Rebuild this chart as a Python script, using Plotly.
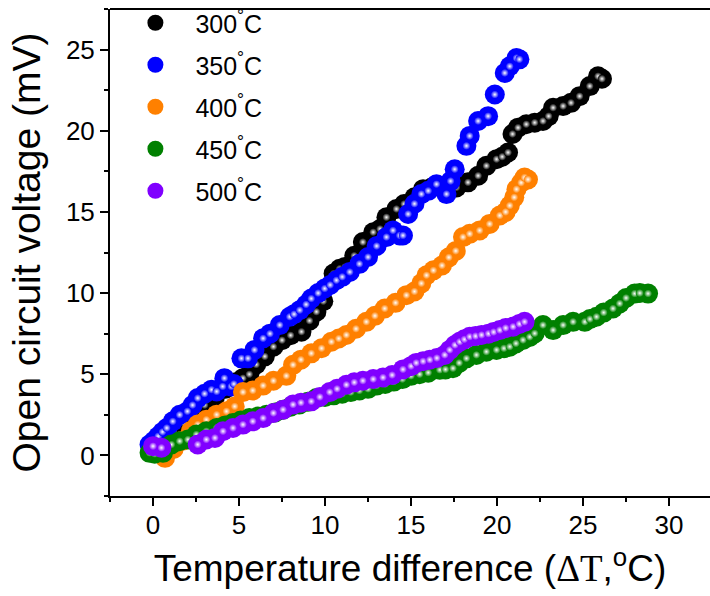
import plotly.graph_objects as go

# ---- data ----
LABELS = ["300<sup>°</sup>C", "350<sup>°</sup>C", "400<sup>°</sup>C", "450<sup>°</sup>C", "500<sup>°</sup>C"]
COLORS = ["#000000", "#0000FF", "#FF8000", "#008000", "#8000FF"]

X300 = [0.1, 0.6, 1.2, 1.8, 2.4, 3.0, 3.6, 4.2, 4.8, 5.23, 5.6, 6.0, 6.5, 7.0, 7.5, 8.0, 8.63, 9.1, 9.5, 9.9,
        10.5, 10.85, 11.15, 11.7, 12.2, 12.8, 13.2, 13.57, 14.15, 14.6, 15.2, 15.7, 16.2, 16.6, 17.1, 17.64,
        18.31, 18.9, 19.38, 19.97, 20.3, 20.64, 20.9, 21.22, 21.7, 22.19, 22.67, 23.0, 23.26, 23.84, 24.3,
        24.8, 25.39, 25.87, 26.1]
Y300 = [0.3, 0.8, 1.5, 2.0, 2.6, 3.1, 3.6, 4.1, 4.5, 4.76, 5.0, 5.6, 6.1, 6.7, 7.1, 7.4, 7.62, 8.3, 8.85, 9.5,
        11.2, 11.5, 11.6, 12.3, 13.14, 13.75, 13.95, 14.67, 15.18, 15.49, 15.9, 16.4, 16.5, 16.6, 16.5, 16.51,
        16.82, 17.23, 17.84, 18.25, 18.4, 18.66, 19.8, 20.19, 20.4, 20.5, 20.6, 20.9, 21.42, 21.52, 21.72,
        22.13, 22.75, 23.36, 23.2]

X350 = [-0.2, 0.05, 0.3, 0.55, 0.8, 1.15, 1.55, 2.0, 2.3, 2.6, 3.0, 3.4, 3.7, 4.05, 4.15, 4.55, 4.7, 5.14,
        5.52, 5.9, 6.4, 6.8, 7.37, 7.95, 8.2, 8.53, 8.9, 9.2, 9.6, 9.98, 10.3, 10.66, 11.0, 11.44, 12.0, 12.5,
        13.0, 13.57, 13.95, 14.34, 14.53, 14.83, 15.2, 15.6, 16.0, 16.48, 17.06, 17.3, 17.54, 18.22, 18.41,
        18.9, 19.48, 19.87, 20.45, 20.74, 21.13, 21.3]
Y350 = [0.67, 0.9, 1.18, 1.45, 1.69, 2.1, 2.5, 2.72, 3.1, 3.53, 3.8, 4.05, 3.94, 4.25, 4.76, 4.25, 4.4, 5.98,
        5.98, 6.5, 7.21, 7.5, 8.03, 8.54, 8.7, 8.95, 9.3, 9.66, 10.0, 10.28, 10.5, 10.79, 11.0, 11.3, 11.8,
        12.22, 12.9, 13.45, 13.86, 13.55, 13.55, 14.87, 15.5, 16.1, 16.3, 16.71, 16.1, 16.9, 17.63, 19.07,
        19.68, 20.6, 20.9, 22.23, 23.56, 23.97, 24.48, 24.4]

X400 = [0.7, 1.2, 1.7, 2.2, 2.6, 3.1, 3.7, 4.27, 4.75, 5.23, 5.8, 6.4, 7.0, 7.75, 8.14, 8.6, 9.2, 9.8, 10.37,
        10.8, 11.24, 11.8, 12.4, 12.9, 13.47, 14.1, 14.73, 15.2, 15.6, 15.9, 16.3, 16.8, 17.2, 17.6, 18.02,
        18.41, 18.99, 19.57, 20.16, 20.5, 20.74, 21.0, 21.13, 21.4, 21.6, 21.8]
Y400 = [-0.15, 0.4, 0.9, 1.5, 1.9, 2.2, 2.51, 2.72, 3.02, 3.9, 4.0, 4.3, 4.6, 4.9, 5.58, 5.9, 6.29, 6.6, 7.0,
        7.2, 7.42, 7.8, 8.23, 8.6, 9.05, 9.4, 9.87, 10.1, 10.6, 11.1, 11.4, 11.7, 12.2, 12.6, 13.45, 13.65,
        13.86, 14.26, 14.78, 15.0, 15.39, 15.9, 16.4, 16.8, 17.12, 17.0]

X450 = [-0.2, 0.1, 0.58, 1.07, 1.55, 2.03, 2.52, 3.1, 3.7, 4.2, 4.65, 5.1, 5.6, 6.1, 6.6, 7.1, 7.56, 8.0, 8.5,
        9.0, 9.5, 10.0, 10.5, 11.0, 11.5, 12.0, 12.5, 13.0, 13.5, 14.0, 14.5, 15.0, 15.5, 16.0, 16.67, 17.0,
        17.44, 17.8, 18.22, 18.8, 19.38, 19.97, 20.4, 20.74, 21.1, 21.51, 21.9, 22.19, 22.67, 23.26, 23.84,
        24.42, 25.1, 25.4, 25.78, 26.2, 26.74, 27.13, 27.5, 28.0, 28.3, 28.78]
Y450 = [0.16, 0.1, 0.16, 0.67, 0.88, 0.98, 1.29, 1.49, 1.69, 1.85, 2.0, 2.15, 2.3, 2.4, 2.51, 2.65, 2.82, 3.0,
        3.13, 3.3, 3.53, 3.6, 3.7, 3.8, 3.9, 4.0, 4.1, 4.3, 4.4, 4.55, 4.7, 4.9, 5.0, 5.1, 5.27, 5.3, 5.37,
        5.7, 5.98, 6.19, 6.39, 6.5, 6.6, 6.7, 6.9, 7.11, 7.3, 7.52, 8.03, 7.72, 8.03, 8.23, 8.23, 8.4, 8.54,
        8.8, 9.05, 9.36, 9.7, 9.97, 10.0, 9.97]

X500 = [0.0, 0.49, 2.6, 3.1, 3.6, 4.07, 4.65, 5.23, 5.8, 6.4, 7.0, 7.56, 8.14, 8.6, 9.2, 9.7, 10.27, 10.7,
        11.24, 11.7, 12.2, 12.8, 13.37, 13.9, 14.53, 15.0, 15.3, 15.7, 16.09, 16.5, 16.96, 17.25, 17.55,
        17.83, 18.1, 18.41, 18.75, 19.1, 19.5, 19.8, 20.16, 20.5, 20.93, 21.3, 21.6]
Y500 = [0.57, 0.47, 0.67, 0.98, 1.08, 1.49, 1.69, 1.9, 2.1, 2.3, 2.61, 2.82, 3.13, 3.25, 3.33, 3.6, 3.9, 4.1,
        4.35, 4.5, 4.6, 4.7, 4.8, 4.95, 5.3, 5.5, 5.7, 5.8, 5.89, 6.0, 6.19, 6.5, 6.8, 7.0, 7.15, 7.31, 7.35,
        7.42, 7.5, 7.6, 7.72, 7.85, 7.93, 8.1, 8.23]

X_TICKS = [0, 5, 10, 15, 20, 25, 30]
Y_TICKS = [0, 5, 10, 15, 20, 25]

SERIES = [(X300, Y300), (X350, Y350), (X400, Y400), (X450, Y450), (X500, Y500)]

FONT = "Liberation Sans, Arial, sans-serif"

fig = go.Figure()
for i, ((xs, ys), name, col) in enumerate(zip(SERIES, LABELS, COLORS)):
    fig.add_trace(go.Scatter(
        x=xs, y=ys, mode="markers", name=name, legendgroup=f"g{i}",
        marker=dict(size=20, color=col, line=dict(width=0)),
    ))
    fig.add_trace(go.Scatter(
        x=xs, y=ys, mode="markers", showlegend=False, legendgroup=f"g{i}",
        hoverinfo="skip",
        marker=dict(size=8, color=col, line=dict(width=0),
                    gradient=dict(type="radial", color="#FFFFFF")),
    ))

fig.update_layout(
    width=710, height=596,
    margin=dict(l=110, r=0, t=7, b=100),
    paper_bgcolor="white", plot_bgcolor="white",
    font=dict(family=FONT, color="black"),
    showlegend=True,
    legend=dict(
        x=0.009, y=1.019, xanchor="left", yanchor="top",
        bgcolor="rgba(0,0,0,0)", borderwidth=0,
        font=dict(size=25, family=FONT),
        traceorder="grouped", tracegroupgap=6.5,
        itemsizing="trace", itemwidth=70,
    ),
    xaxis=dict(
        range=[-2.5, 32.38], tickmode="array", tickvals=X_TICKS,
        ticktext=[str(v) for v in X_TICKS],
        showgrid=False, zeroline=False, automargin=False,
        showline=True, linecolor="black", linewidth=2,
        ticks="outside", ticklen=8, tickwidth=2, tickcolor="black",
        minor=dict(ticks="outside", ticklen=4, tickwidth=2, tickcolor="black", dtick=2.5, tick0=0),
        tickfont=dict(size=26, family=FONT), ticklabelstandoff=-3,
        title=dict(
            text="Temperature difference (<span style='font-family:Liberation Serif'>ΔT</span>,<sup>o</sup>C)",
            font=dict(size=37, family=FONT), standoff=16),
    ),
    yaxis=dict(
        range=[-2.5, 27.5], tickmode="array", tickvals=Y_TICKS,
        ticktext=[str(v) for v in Y_TICKS],
        showgrid=False, zeroline=False, automargin=False,
        showline=True, linecolor="black", linewidth=2,
        ticks="outside", ticklen=8, tickwidth=2, tickcolor="black",
        minor=dict(ticks="outside", ticklen=4, tickwidth=2, tickcolor="black", dtick=2.5, tick0=0),
        tickfont=dict(size=26, family=FONT),
        title=dict(text="Open circuit voltage (mV)", font=dict(size=39, family=FONT), standoff=13),
    ),
    shapes=[dict(type="line", xref="paper", yref="paper", x0=0, x1=1, y0=1, y1=1,
                 line=dict(color="black", width=2))],
)

fig.write_html("out.html", config={"displayModeBar": False},
               post_script="document.body.style.margin='0px';document.body.style.overflow='hidden';")
